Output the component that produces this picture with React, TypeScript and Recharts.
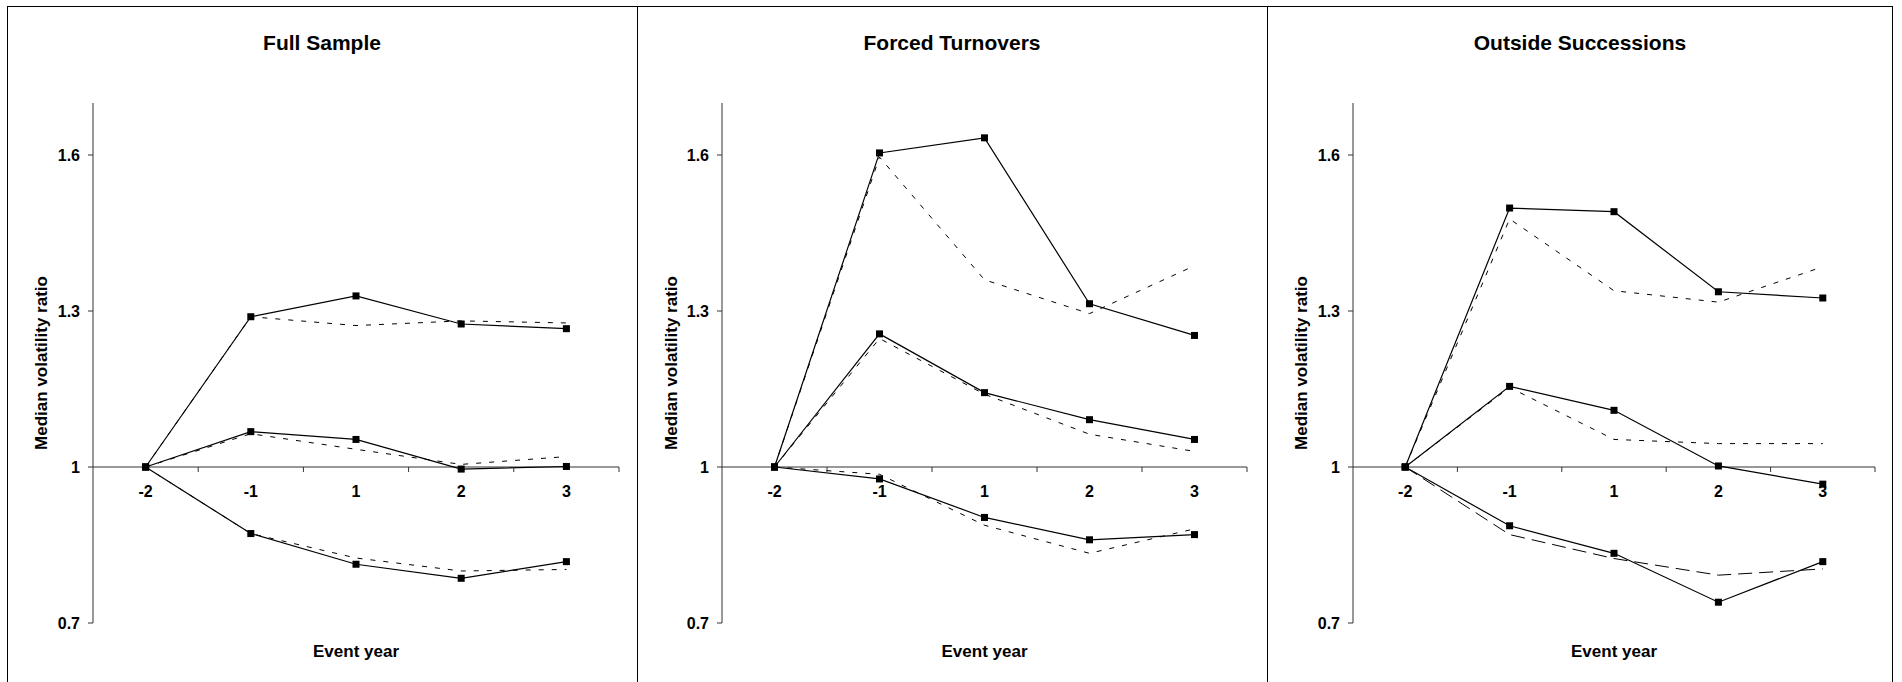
import { LineChart, Line, XAxis, YAxis, ReferenceLine } from 'recharts';

const years = ['-2', '-1', '1', '2', '3'];
const yTicks = [0.7, 1, 1.3, 1.6];

// Full sample
const fullSolidHigh = [1, 1.289, 1.329, 1.275, 1.266];
const fullDashHigh = [1, 1.289, 1.272, 1.281, 1.277];
const fullSolidMid = [1, 1.068, 1.053, 0.996, 1.001];
const fullDashMid = [1, 1.064, 1.034, 1.005, 1.02];
const fullSolidLow = [1, 0.872, 0.813, 0.786, 0.818];
const fullDashLow = [1, 0.872, 0.825, 0.8, 0.803];

// Forced turnovers
const forcedSolidHigh = [1, 1.604, 1.633, 1.314, 1.253];
const forcedDashHigh = [1, 1.596, 1.36, 1.295, 1.387];
const forcedSolidMid = [1, 1.256, 1.143, 1.091, 1.053];
const forcedDashMid = [1, 1.247, 1.14, 1.063, 1.03];
const forcedSolidLow = [1, 0.977, 0.903, 0.86, 0.87];
const forcedDashLow = [1, 0.986, 0.888, 0.834, 0.881];

// Outside successions
const outsideSolidHigh = [1, 1.498, 1.491, 1.337, 1.325];
const outsideDashHigh = [1, 1.477, 1.339, 1.317, 1.385];
const outsideSolidMid = [1, 1.155, 1.109, 1.002, 0.967];
const outsideDashMid = [1, 1.153, 1.053, 1.045, 1.045];
const outsideSolidLow = [1, 0.887, 0.834, 0.74, 0.818];
const outsideDashLow = [1, 0.87, 0.824, 0.792, 0.804];

const Y_MIN = 0.7;
const Y_MAX = 1.7;
const CHART_H = 682;
const PLOT_TOP = 103;
const X_AXIS_H = 59;
const PLOT_H = CHART_H - PLOT_TOP - X_AXIS_H;
const Y_AT_ONE = PLOT_TOP + ((Y_MAX - 1) / (Y_MAX - Y_MIN)) * PLOT_H;

const FONT = 'Arial, "Liberation Sans", sans-serif';

const buildRows = (s: number[][]) =>
  years.map((year, i) => ({
    x: i + 0.5,
    year,
    sh: s[0][i],
    dh: s[1][i],
    sm: s[2][i],
    dm: s[3][i],
    sl: s[4][i],
    dl: s[5][i],
  }));

const panels = [
  {
    title: 'Full Sample',
    left: 7,
    width: 630,
    yWidth: 86,
    right: 18,
    lowDash: '5 8',
    data: buildRows([fullSolidHigh, fullDashHigh, fullSolidMid, fullDashMid, fullSolidLow, fullDashLow]),
  },
  {
    title: 'Forced Turnovers',
    left: 637,
    width: 630,
    yWidth: 85,
    right: 20,
    lowDash: '5 8',
    data: buildRows([forcedSolidHigh, forcedDashHigh, forcedSolidMid, forcedDashMid, forcedSolidLow, forcedDashLow]),
  },
  {
    title: 'Outside Successions',
    left: 1267,
    width: 626,
    yWidth: 86,
    right: 18,
    lowDash: '14 7',
    data: buildRows([outsideSolidHigh, outsideDashHigh, outsideSolidMid, outsideDashMid, outsideSolidLow, outsideDashLow]),
  },
];

const xTicks = [0, 0.5, 1, 1.5, 2, 2.5, 3, 3.5, 4, 4.5, 5];

const renderSquare = (props: any) => {
  const { cx, cy, index } = props;
  if (cx == null || cy == null) return <g key={index} />;
  return <rect key={index} x={cx - 3.5} y={cy - 3.5} width={7} height={7} fill="#000" />;
};

// x axis crosses at y = 1, so ticks and labels are drawn there
const renderXTick = (props: any) => {
  const { x, payload } = props;
  const v = payload.value;
  if (Number.isInteger(v)) {
    if (v === 0) return <g />;
    return <line x1={x} x2={x} y1={Y_AT_ONE} y2={Y_AT_ONE + 5} stroke="#333" strokeWidth={1} />;
  }
  return (
    <text x={x} y={Y_AT_ONE + 30} textAnchor="middle" fontFamily={FONT} fontSize={16} fontWeight="bold" fill="#000">
      {years[Math.floor(v)]}
    </text>
  );
};

const renderXLabel = (props: any) => {
  const vb = props.viewBox;
  return (
    <text x={vb.x + vb.width / 2} y={vb.y + 34} textAnchor="middle" fontFamily={FONT} fontSize={17} fontWeight="bold" fill="#000">
      Event year
    </text>
  );
};

const renderYLabel = (props: any) => {
  const vb = props.viewBox;
  const cx = vb.x + 34;
  const cy = vb.y + vb.height / 2;
  return (
    <text
      x={cx}
      y={cy}
      transform={`rotate(-90 ${cx} ${cy})`}
      textAnchor="middle"
      dominantBaseline="central"
      fontFamily={FONT}
      fontSize={17}
      fontWeight="bold"
      fill="#000"
    >
      Median volatility ratio
    </text>
  );
};

const Panel = ({ p }: { p: (typeof panels)[number] }) => (
  <div style={{ position: 'absolute', left: p.left, top: 0, width: p.width, height: CHART_H }}>
    <div
      style={{
        position: 'absolute',
        left: 0,
        top: 31,
        width: p.width,
        textAlign: 'center',
        fontFamily: FONT,
        fontSize: 21,
        fontWeight: 'bold',
        lineHeight: '24px',
      }}
    >
      {p.title}
    </div>
    <LineChart width={p.width} height={CHART_H} data={p.data} margin={{ top: PLOT_TOP, right: p.right, left: 0, bottom: 0 }}>
      <XAxis
        type="number"
        dataKey="x"
        domain={[0, 5]}
        ticks={xTicks}
        interval={0}
        axisLine={false}
        tickLine={false}
        tickSize={0}
        tickMargin={0}
        tick={renderXTick}
        height={X_AXIS_H}
        label={renderXLabel}
      />
      <YAxis
        type="number"
        domain={[Y_MIN, Y_MAX]}
        ticks={yTicks}
        width={p.yWidth}
        axisLine={{ stroke: '#333', strokeWidth: 1 }}
        tickLine={{ stroke: '#333' }}
        tickSize={5}
        tickMargin={8}
        tick={{ fill: '#000', fontSize: 16, fontWeight: 'bold', fontFamily: FONT }}
        label={renderYLabel}
      />
      <ReferenceLine y={1} stroke="#333" strokeWidth={1} />
      <Line type="linear" dataKey="dh" stroke="#000" strokeWidth={1} strokeDasharray="5 8" dot={false} isAnimationActive={false} />
      <Line type="linear" dataKey="dm" stroke="#000" strokeWidth={1} strokeDasharray="5 8" dot={false} isAnimationActive={false} />
      <Line type="linear" dataKey="dl" stroke="#000" strokeWidth={1} strokeDasharray={p.lowDash} dot={false} isAnimationActive={false} />
      <Line type="linear" dataKey="sh" stroke="#000" strokeWidth={1.2} dot={renderSquare} isAnimationActive={false} />
      <Line type="linear" dataKey="sm" stroke="#000" strokeWidth={1.2} dot={renderSquare} isAnimationActive={false} />
      <Line type="linear" dataKey="sl" stroke="#000" strokeWidth={1.2} dot={renderSquare} isAnimationActive={false} />
    </LineChart>
  </div>
);

const App = () => (
  <div style={{ position: 'absolute', left: 0, top: 0, width: 1902, height: 682, overflow: 'hidden', background: '#fff' }}>
    {panels.map((p) => (
      <Panel key={p.title} p={p} />
    ))}
    {/* outer frame and dividers */}
    <div style={{ position: 'absolute', left: 7, top: 6, width: 1886, height: 700, borderTop: '1px solid #000', borderLeft: '1px solid #000', borderRight: '1px solid #000', boxSizing: 'border-box' }} />
    <div style={{ position: 'absolute', left: 637, top: 6, width: 1, height: 700, background: '#000' }} />
    <div style={{ position: 'absolute', left: 1267, top: 6, width: 1, height: 700, background: '#000' }} />
  </div>
);

export default App;
